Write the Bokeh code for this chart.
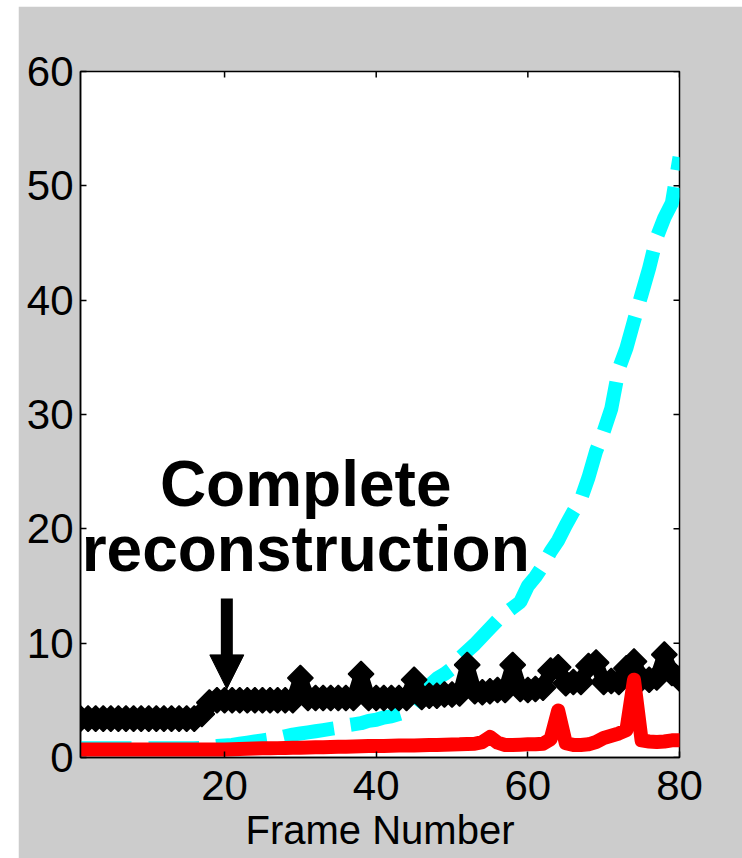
import numpy as np
from bokeh.plotting import figure
from bokeh.layouts import row, column
from bokeh.models import Arrow, NormalHead, FixedTicker, Spacer
from bokeh.core.properties import value
from bokeh.embed import file_html
from bokeh.resources import INLINE

# ---------------- data ----------------
frames = list(range(1, 81))

black_vals = ([3.4] * 16 + [3.8, 4.8] + [5.0] * 11 + [6.95] + [5.2] * 7 + [7.3] + [5.2] * 6 + [6.8]
              + [5.3, 5.4, 5.4, 5.5, 5.5, 5.6] + [8.1] + [5.8, 5.7, 5.8, 5.9, 5.9] + [8.1]
              + [6.0, 5.9, 6.0, 6.1] + [7.6, 7.9] + [6.5, 6.6, 6.6] + [8.0, 8.3]
              + [6.6, 6.7, 6.6] + [7.8, 8.4] + [6.9, 6.8, 7.0] + [9.0] + [7.4] + [6.9])

red_vals = ([0.7] * 20
            + [0.72, 0.74, 0.76, 0.78, 0.8, 0.8, 0.82, 0.84, 0.85, 0.86]
            + [0.88, 0.9, 0.9, 0.92, 0.94, 0.95, 0.96, 0.98, 1.0, 1.0]
            + [1.0, 1.02, 1.04, 1.05, 1.06, 1.08, 1.1, 1.1, 1.12, 1.14]
            + [1.15, 1.18, 1.2] + [1.35, 1.8, 1.3]
            + [1.1, 1.1, 1.12, 1.15, 1.15, 1.2] + [1.6, 4.1, 1.25]
            + [1.1, 1.1, 1.15] + [1.35, 1.7, 1.9, 2.1, 2.4] + [6.8] + [1.5]
            + [1.4, 1.35, 1.4, 1.5, 1.5])

cyan_vals = ([0.8] * 16
             + [0.85, 0.9, 1.0, 1.05, 1.1, 1.2, 1.3, 1.4, 1.5, 1.6, 1.7, 1.85, 2.0, 2.1,
                2.2, 2.3, 2.4, 2.5, 2.6, 2.8, 2.9, 3.0, 3.2, 3.3, 3.5, 3.6, 3.8, 4.0,
                4.6, 5.5, 6.3, 6.9, 7.3, 7.8, 8.7, 9.3, 9.9, 10.6, 11.3, 12.0, 12.6,
                13.1, 13.6, 15.0, 15.8, 16.8, 18.0, 19.0, 20.3, 21.5, 22.6, 24.5, 26.8,
                28.5, 30.5, 34.0, 35.8, 38.2, 40.5, 42.8, 45.5, 47.2, 48.5, 52.5])

x_min, x_max = 1, 80
y_min, y_max = 0, 60
x_ticks = [20, 40, 60, 80]
y_ticks = [0, 10, 20, 30, 40, 50, 60]

ann_lines = ["Complete", "reconstruction"]
ann_x = 30.7
ann_y = [23.9, 18.2]
arrow_x = 20.3
arrow_y_start = 13.9
arrow_y_end = 6.0

# ---------------- figure ----------------
p = figure(frame_width=599, frame_height=686, x_range=(x_min, x_max), y_range=(y_min, y_max),
           output_backend="svg", toolbar_location=None,
           min_border_left=62, min_border_right=63, min_border_top=65, min_border_bottom=101,
           border_fill_color="#cccccc", background_fill_color="white")
p.grid.visible = False
p.outline_line_color = "black"
p.outline_line_width = 1.5

font = "Liberation Sans"

for ax, ticks in ((p.xaxis[0], x_ticks), (p.yaxis[0], y_ticks)):
    ax.ticker = FixedTicker(ticks=ticks)
    ax.major_tick_in = 6
    ax.major_tick_out = 0
    ax.minor_tick_in = 0
    ax.minor_tick_out = 0
    ax.axis_line_color = "black"
    ax.axis_line_width = 1.5
    ax.major_tick_line_color = "black"
    ax.major_tick_line_width = 1.5
    ax.major_label_text_font = font
    ax.major_label_text_color = "black"
    ax.major_label_text_font_size = "42px"

p.xaxis[0].major_label_standoff = 13
p.yaxis[0].major_label_standoff = 7
p.xaxis[0].axis_label = "Frame Number"
p.xaxis[0].axis_label_text_font = font
p.xaxis[0].axis_label_text_font_size = "40px"
p.xaxis[0].axis_label_text_font_style = "normal"
p.xaxis[0].axis_label_text_color = "black"
p.xaxis[0].axis_label_standoff = 5

# mirrored inward ticks on top and right edges (half of each dash is clipped by the frame)
p.scatter(x_ticks, [y_max] * len(x_ticks), marker="dash", angle=np.pi / 2, size=12,
          line_color="black", line_width=1.5)
p.scatter([x_max] * len(y_ticks), y_ticks, marker="dash", size=12,
          line_color="black", line_width=1.5)

# ---------------- series ----------------
p.line(frames, cyan_vals, line_color="#00ffff", line_width=14, line_dash="51 17", line_cap="butt")
p.line(frames, black_vals, line_color="black", line_width=14, line_join="bevel")
p.scatter(frames, black_vals, marker="square", angle=np.pi / 4, size=18,
          fill_color="black", line_color="black", line_width=1.5)
p.line(frames, red_vals, line_color="#ff0000", line_width=14, line_join="round", line_cap="round")

# ---------------- annotation ----------------
p.text(x=[ann_x, ann_x], y=ann_y, text=ann_lines, text_font=value(font),
       text_font_style="bold", text_font_size="64px", text_align="center",
       text_baseline="alphabetic", text_color="black")
p.add_layout(Arrow(end=NormalHead(size=34, fill_color="black", line_color="black"),
                   x_start=arrow_x, y_start=arrow_y_start, x_end=arrow_x, y_end=arrow_y_end,
                   line_width=12, line_color="black"))

layout = column(Spacer(height=6), row(Spacer(width=18), p))
open("out.html", "w").write(file_html(layout, INLINE))
